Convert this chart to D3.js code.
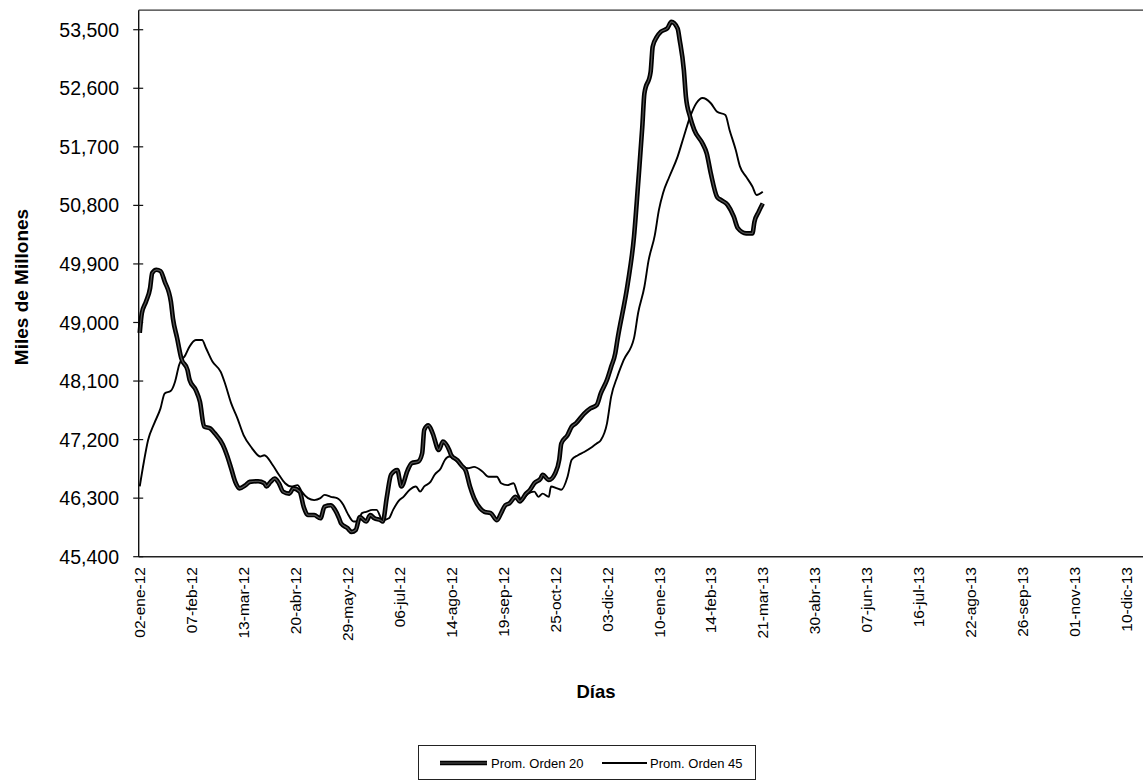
<!DOCTYPE html>
<html><head><meta charset="utf-8">
<script src="https://cdn.jsdelivr.net/npm/d3@7"></script>
<style>
html,body{margin:0;padding:0;background:#fff;}
text{font-family:"Liberation Sans",Arial,sans-serif;fill:#000;}
</style></head>
<body>
<svg id="chart" width="1144" height="781"></svg>
<script>
// Tick labels (every 25 business days)
const dateLabels = ["02-ene-12","07-feb-12","13-mar-12","20-abr-12","29-may-12","06-jul-12","14-ago-12","19-sep-12","25-oct-12","03-dic-12","10-ene-13","14-feb-13","21-mar-13","30-abr-13","07-jun-13","16-jul-13","22-ago-13","26-sep-13","01-nov-13","10-dic-13"];
const labelStep = 25;
const totalDays = 482;
const yTicks = [45400,46300,47200,48100,49000,49900,50800,51700,52600,53500];

// Prom. Orden 20 (day index, value)
const ord20Day = [0,1,3,5,6,8,10,12,15,16,18,20,23,24,27,29,31,34,36,40,42,44,46,48,51,53,57,60,61,63,65,67,69,72,74,77,79,81,84,87,89,92,94,96,97,100,102,104,106,109,111,113,116,117,119,121,124,126,129,131,134,136,137,139,141,144,146,149,150,153,155,157,159,161,164,166,169,172,174,176,178,181,183,186,188,190,193,194,197,200,202,203,206,208,210,214,217,220,222,225,227,229,230,235,238,240,242,243,246,247,249,251,254,256,259,260,262,263,265,267,271,273,275,278,280,283,286,288,292,295,296,298,300];
const ord20Val = [48840,49140,49320,49530,49760,49810,49790,49630,49320,49060,48760,48450,48270,48120,47960,47780,47400,47370,47300,47120,46960,46760,46550,46450,46500,46550,46560,46530,46480,46550,46600,46530,46400,46370,46450,46400,46160,46040,46040,45990,46170,46190,46120,45990,45910,45840,45780,45810,46010,45940,46040,45990,45960,45940,46320,46660,46730,46480,46730,46840,46860,46990,47350,47420,47300,47040,47170,47040,46960,46880,46800,46720,46480,46300,46140,46090,46070,45960,46070,46190,46220,46320,46250,46370,46430,46530,46600,46660,46580,46680,46890,47140,47270,47400,47450,47600,47680,47730,47910,48120,48320,48530,48730,49600,50320,51140,52010,52520,52850,53240,53390,53470,53520,53620,53520,53340,52880,52470,52160,51960,51750,51600,51290,50930,50880,50810,50630,50450,50370,50370,50550,50700,50830];

// Prom. Orden 45 (day index, value)
const ord45Day = [0,2,4,7,10,12,15,17,19,22,24,27,30,32,35,39,41,44,47,50,54,58,60,64,67,70,73,76,78,81,84,87,89,92,95,98,100,103,105,107,109,112,114,117,120,122,125,127,130,133,135,137,140,142,145,147,149,151,153,156,158,161,165,168,172,174,177,180,182,184,187,190,192,194,197,198,201,203,206,208,211,214,218,220,222,225,227,230,233,238,240,243,245,248,250,252,255,259,262,265,268,271,275,278,282,284,287,289,292,295,297,300];
const ord45Val = [46480,46860,47190,47450,47680,47910,47950,48090,48350,48500,48630,48730,48730,48600,48400,48240,48070,47760,47530,47270,47070,46940,46960,46810,46660,46530,46480,46500,46400,46300,46270,46300,46350,46320,46300,46200,46070,45940,45940,46070,46090,46120,46120,45960,45990,46120,46270,46320,46430,46480,46400,46480,46550,46660,46760,46890,46940,46910,46860,46780,46760,46780,46710,46630,46630,46530,46500,46530,46370,46270,46370,46400,46320,46370,46320,46480,46450,46430,46630,46890,46960,47010,47090,47140,47190,47450,47860,48170,48420,48760,49150,49550,49950,50340,50730,50990,51240,51550,51860,52160,52370,52450,52370,52240,52190,51960,51650,51400,51240,51090,50960,51010];

const seriesNames = ["Prom. Orden 20","Prom. Orden 45"];

const svg = d3.select("#chart");
const plotLeft = 138.7, plotRight = 1139.7, plotTop = 10.2, plotBottom = 556.7;

const x = d3.scaleLinear().domain([-0.5, totalDays - 0.5]).range([plotLeft, plotRight]);
const y = d3.scaleLinear().domain([45400, 53800]).range([plotBottom, plotTop]);

// frame: top line, left axis, bottom axis
svg.append("line").attr("x1", plotLeft).attr("x2", 1143).attr("y1", plotTop).attr("y2", plotTop)
  .attr("stroke", "#333").attr("stroke-width", 1.2);
svg.append("line").attr("x1", plotLeft).attr("x2", 1143).attr("y1", plotBottom).attr("y2", plotBottom)
  .attr("stroke", "#222").attr("stroke-width", 1.4);
svg.append("line").attr("x1", plotLeft).attr("x2", plotLeft).attr("y1", plotTop).attr("y2", plotBottom)
  .attr("stroke", "#111").attr("stroke-width", 1.4);

// y ticks and labels
const yAxis = svg.append("g");
yTicks.forEach(v => {
  yAxis.append("line").attr("x1", plotLeft - 5.5).attr("x2", plotLeft + 4.5)
    .attr("y1", y(v)).attr("y2", y(v)).attr("stroke", "#111").attr("stroke-width", 1.2);
  yAxis.append("text").attr("x", 119).attr("y", y(v)).attr("dy", "0.36em")
    .attr("text-anchor", "end").attr("font-size", 19.5)
    .text(d3.format(",")(v));
});

// x labels
const xAxis = svg.append("g");
dateLabels.forEach((lab, i) => {
  const px = x(i * labelStep);
  xAxis.append("text")
    .attr("transform", `translate(${px},567) rotate(-90)`)
    .attr("dy", "0.36em").attr("text-anchor", "end").attr("font-size", 15.5)
    .text(lab);
});

// axis titles
svg.append("text").attr("transform", "translate(21,287) rotate(-90)")
  .attr("dy", "0.36em").attr("text-anchor", "middle")
  .attr("font-size", 19).attr("font-weight", "bold").text("Miles de Millones");
svg.append("text").attr("x", 596).attr("y", 698).attr("text-anchor", "middle")
  .attr("font-size", 18.5).attr("font-weight", "bold").text("Días");

// lines
const line = d3.line().x(d => x(d[0])).y(d => y(d[1])).curve(d3.curveMonotoneX);
const d20 = ord20Day.map((d, i) => [d, ord20Val[i]]);
const d45 = ord45Day.map((d, i) => [d, ord45Val[i]]);

svg.append("path").datum(d45).attr("d", line).attr("fill", "none")
  .attr("stroke", "#000").attr("stroke-width", 1.9).attr("stroke-linejoin", "round");
svg.append("path").datum(d20).attr("d", line).attr("fill", "none")
  .attr("stroke", "#000").attr("stroke-width", 4.6).attr("stroke-linejoin", "round");
svg.append("path").datum(d20).attr("d", line).attr("fill", "none")
  .attr("stroke", "#555").attr("stroke-width", 1.2).attr("stroke-linejoin", "round");

// legend
const lg = svg.append("g");
lg.append("rect").attr("x", 418.5).attr("y", 745.5).attr("width", 337).attr("height", 34)
  .attr("fill", "#fff").attr("stroke", "#222").attr("stroke-width", 1);
lg.append("line").attr("x1", 440).attr("x2", 487).attr("y1", 763).attr("y2", 763)
  .attr("stroke", "#000").attr("stroke-width", 4.6);
lg.append("line").attr("x1", 440).attr("x2", 487).attr("y1", 763).attr("y2", 763)
  .attr("stroke", "#555").attr("stroke-width", 1.2);
lg.append("text").attr("x", 491).attr("y", 763).attr("dy", "0.36em")
  .attr("font-size", 13).text(seriesNames[0]);
lg.append("line").attr("x1", 602).attr("x2", 647).attr("y1", 763).attr("y2", 763)
  .attr("stroke", "#000").attr("stroke-width", 1.9);
lg.append("text").attr("x", 650).attr("y", 763).attr("dy", "0.36em")
  .attr("font-size", 13).text(seriesNames[1]);
</script>
</body></html>
